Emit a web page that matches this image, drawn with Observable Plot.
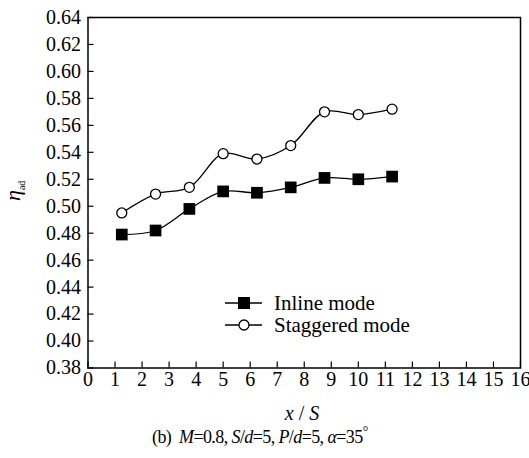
<!DOCTYPE html>
<html><head><meta charset="utf-8">
<script src="https://cdn.jsdelivr.net/npm/d3@7"></script>
<script src="https://cdn.jsdelivr.net/npm/@observablehq/plot@0.6"></script>
<style>
body{margin:0;background:#fff;}
#chart svg, #chart svg text{font-family:"Liberation Serif","Times New Roman",serif !important;}
</style>
</head><body><div id="chart"></div>
<script>
// x positions (x / S)
const xPos = [1.25, 2.5, 3.75, 5, 6.25, 7.5, 8.75, 10, 11.25];
// eta_ad values
const inlineVals = [0.479, 0.482, 0.498, 0.511, 0.510, 0.514, 0.521, 0.520, 0.522];
const staggeredVals = [0.495, 0.509, 0.514, 0.539, 0.535, 0.545, 0.570, 0.568, 0.572];
const seriesNames = ["Inline mode", "Staggered mode"];
const xTicks = [0,1,2,3,4,5,6,7,8,9,10,11,12,13,14,15,16];
const yTicks = [0.38,0.40,0.42,0.44,0.46,0.48,0.50,0.52,0.54,0.56,0.58,0.60,0.62,0.64];

const inlineData = xPos.map((x, i) => ({x, y: inlineVals[i], s: seriesNames[0]}));
const staggeredData = xPos.map((x, i) => ({x, y: staggeredVals[i], s: seriesNames[1]}));

const font = "Liberation Serif, Times New Roman, serif";

const plot = Plot.plot({
  width: 529, height: 458,
  marginLeft: 87.5, marginRight: 9, marginTop: 17, marginBottom: 90.5,
  style: {fontFamily: font, fontSize: "20px", background: "white", color: "black", overflow: "visible"},
  x: {domain: [0, 16]},
  y: {domain: [0.38, 0.64]},
  marks: [
    Plot.axisX({ticks: xTicks, tickSize: -6, tickPadding: 10, tickFormat: d3.format("d"), label: null, fontSize: 20, strokeWidth: 1.2}),
    Plot.axisY({ticks: yTicks, tickSize: -6, tickPadding: 13, tickFormat: d3.format(".2f"), label: null, fontSize: 20, strokeWidth: 1.2}),
    Plot.frame({stroke: "black", strokeWidth: 1.5}),
    Plot.line(inlineData, {x: "x", y: "y", curve: "catmull-rom", stroke: "black", strokeWidth: 1.3}),
    Plot.line(staggeredData, {x: "x", y: "y", curve: "catmull-rom", stroke: "black", strokeWidth: 1.3}),
    Plot.dot(inlineData, {x: "x", y: "y", symbol: "square", r: 6.6, fill: "black", stroke: "none"}),
    Plot.dot(staggeredData, {x: "x", y: "y", symbol: "circle", r: 5, fill: "white", stroke: "black", strokeWidth: 1.3})
  ]
});
document.getElementById("chart").appendChild(plot);

const svg = d3.select(plot).attr("font-family", font);

// Legend
const lg = svg.append("g").attr("font-family", font).attr("font-size", 21).attr("fill", "black").attr("text-anchor", "start");
const legendRows = [{y: 303, sym: "square"}, {y: 325, sym: "circle"}];
legendRows.forEach((row, i) => {
  lg.append("line").attr("x1", 225).attr("x2", 262).attr("y1", row.y).attr("y2", row.y)
    .attr("stroke", "black").attr("stroke-width", 1.3);
  if (row.sym === "square") {
    lg.append("rect").attr("x", 238).attr("y", row.y - 6).attr("width", 12).attr("height", 12).attr("fill", "black");
  } else {
    lg.append("circle").attr("cx", 244).attr("cy", row.y).attr("r", 5).attr("fill", "white")
      .attr("stroke", "black").attr("stroke-width", 1.3);
  }
  lg.append("text").attr("x", 274).attr("y", row.y + 6.5).text(seriesNames[i]);
});

// X axis label
const xl = svg.append("text").attr("x", 302).attr("y", 420).attr("text-anchor", "middle")
  .attr("font-family", font).attr("font-size", 20).attr("fill", "black");
xl.append("tspan").attr("font-style", "italic").text("x");
xl.append("tspan").text(" / ");
xl.append("tspan").attr("font-style", "italic").text("S");

// Y axis label
const yl = svg.append("text").attr("transform", "translate(20,201) rotate(-90)")
  .attr("text-anchor", "start").attr("font-family", font).attr("fill", "black");
yl.append("tspan").attr("font-style", "italic").attr("font-size", 22).text("η");
yl.append("tspan").attr("font-size", 10).attr("dy", 5).text("ad");

// Caption
const cap = svg.append("text").attr("x", 152).attr("y", 443).attr("text-anchor", "start")
  .attr("font-family", font).attr("font-size", 18).attr("fill", "black").attr("letter-spacing", "-0.6");
const parts = [["(b)\u00a0\u00a0", false], ["M", true], ["=0.8, ", false], ["S", true], ["/", false], ["d", true],
  ["=5, ", false], ["P", true], ["/", false], ["d", true], ["=5, ", false], ["α", true], ["=35", false]];
parts.forEach(([t, it]) => {
  const ts = cap.append("tspan").text(t);
  if (it) ts.attr("font-style", "italic");
});
cap.append("tspan").attr("dy", -7).attr("font-size", 14).text("°");
</script>
</body></html>
